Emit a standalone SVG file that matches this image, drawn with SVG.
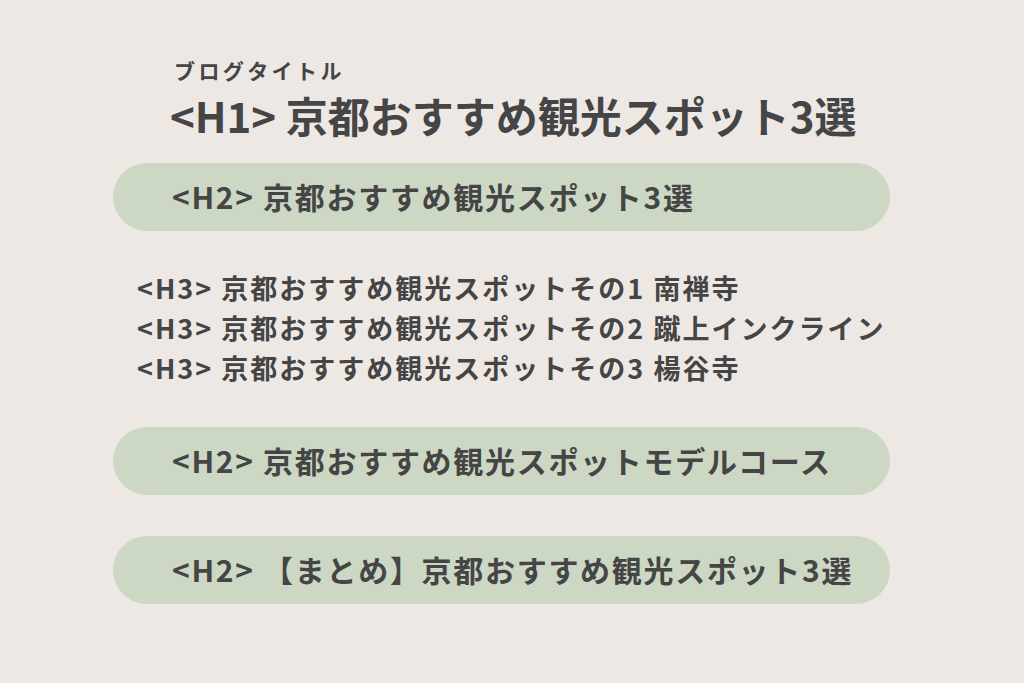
<svg xmlns="http://www.w3.org/2000/svg" width="1024" height="683" viewBox="0 0 1024 683">
<style>
text{font-family:"Noto Sans CJK JP","Noto Sans",sans-serif;font-weight:700;fill:#454545}
.pill{fill:#CCD8C3}
.h2{font-size:30px;letter-spacing:1.7px}
.h3{font-size:27px;letter-spacing:2px}
</style>
<rect width="1024" height="683" fill="#EDE8E4"/>
<g id="blog-title">
<text x="174" y="79" font-size="21" letter-spacing="3.4">ブログタイトル</text>
<text x="170" y="133" font-size="42">&lt;H1&gt; 京都おすすめ観光スポット3選</text>
</g>
<g id="h2-1">
<rect class="pill" x="113" y="163" width="777" height="68" rx="34"/>
<text class="h2" x="172" y="209">&lt;H2&gt; 京都おすすめ観光スポット3選</text>
</g>
<g id="h3-1"><text class="h3" x="137" y="299">&lt;H3&gt; 京都おすすめ観光スポットその1 南禅寺</text></g>
<g id="h3-2"><text class="h3" x="137" y="339">&lt;H3&gt; 京都おすすめ観光スポットその2 蹴上インクライン</text></g>
<g id="h3-3"><text class="h3" x="137" y="379">&lt;H3&gt; 京都おすすめ観光スポットその3 楊谷寺</text></g>
<g id="h2-2">
<rect class="pill" x="113" y="427" width="777" height="68" rx="34"/>
<text class="h2" x="172" y="473">&lt;H2&gt; 京都おすすめ観光スポットモデルコース</text>
</g>
<g id="h2-3">
<rect class="pill" x="113" y="536" width="777" height="68" rx="34"/>
<text class="h2" x="172" y="582">&lt;H2&gt; 【まとめ】京都おすすめ観光スポット3選</text>
</g>
<g id="connectors"/>
</svg>
